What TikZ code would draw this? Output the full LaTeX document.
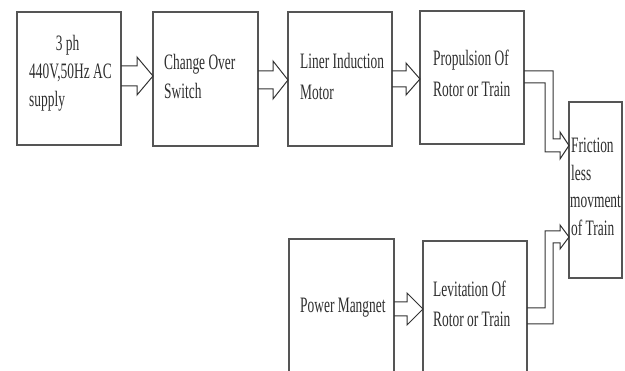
\documentclass[tikz,border=0pt]{standalone}
\usepackage{graphicx}
\usepackage{fontspec}
\setmainfont{Liberation Serif}
\usetikzlibrary{calc}
\definecolor{boxline}{HTML}{555555}
\definecolor{arrline}{HTML}{333333}
\definecolor{txt}{HTML}{2e2e2e}
\newcommand\sq[1]{\scalebox{0.61}[1]{#1}}
\begin{document}
\begin{tikzpicture}[x=1pt,y=-1pt,
  box/.style={draw=boxline,line width=1.3pt,anchor=north west,inner sep=0pt,outer sep=0pt},
  lbl/.style={anchor=base west,inner sep=0pt,text=txt,font=\fontsize{22}{30}\selectfont},
  arr/.style={draw=arrline,line width=1pt,line join=miter}]
\useasboundingbox (0,0) rectangle (625,371);
\clip (0,0) rectangle (625,371);
% boxes
\node[box,minimum width=104pt,minimum height=133pt] (b1) at (17,12) {};
\node[box,minimum width=105pt,minimum height=134pt] (b2) at (153,12) {};
\node[box,minimum width=104pt,minimum height=134pt] (b3) at (288,12) {};
\node[box,minimum width=104pt,minimum height=133pt] (b4) at (420,11) {};
\node[box,minimum width=53pt,minimum height=176pt] (b5) at (569,102) {};
\node[box,minimum width=105pt,minimum height=150pt] (b6) at (289,239) {};
\node[box,minimum width=104pt,minimum height=150pt] (b7) at (423,241) {};
% labels
\node[lbl,anchor=base] (t1a) at (67.5,51) {\sq{3 ph}};
\node[lbl] (t1b) at (29,79) {\sq{440V,50Hz AC}};
\node[lbl] (t1c) at (29,107) {\sq{supply}};
\node[lbl] (t2a) at (164,70) {\sq{Change Over}};
\node[lbl] (t2b) at (164,99) {\sq{Switch}};
\node[lbl] (t3a) at (300,69) {\sq{Liner Induction}};
\node[lbl] (t3b) at (300,100) {\sq{Motor}};
\node[lbl] (t4a) at (433,66) {\sq{Propulsion Of}};
\node[lbl] (t4b) at (433,97) {\sq{Rotor or Train}};
\node[lbl] (t5a) at (571,153) {\sq{Friction}};
\node[lbl] (t5b) at (571,181) {\sq{less}};
\node[lbl] (t5c) at (570,208) {\sq{movment}};
\node[lbl] (t5d) at (571,236) {\sq{of Train}};
\node[lbl] (t6a) at (300,313) {\sq{Power Mangnet}};
\node[lbl] (t7a) at (433,297) {\sq{Levitation Of}};
\node[lbl] (t7b) at (433,327) {\sq{Rotor or Train}};
% hollow arrows
\draw[arr] (b1.east |- 0,66) -- (137,66) -- (137,57) -- (b2.west |- 0,76) -- (137,95) -- (137,86) -- (b1.east |- 0,86);
\draw[arr] (b2.east |- 0,71) -- (273,71) -- (273,61) -- (b3.west |- 0,80) -- (273,99) -- (273,89) -- (b2.east |- 0,89);
\draw[arr] (b3.east |- 0,71) -- (406,71) -- (406,63) -- (b4.west |- 0,79) -- (406,95) -- (406,87) -- (b3.east |- 0,87);
\draw[arr] (b6.east |- 0,302) -- (407,302) -- (407,293) -- (b7.west |- 0,309) -- (407,325) -- (407,316) -- (b6.east |- 0,316);
\draw[arr] (b4.east |- 0,71) -- (553,71) -- (553,139) -- (560,139) -- (560,132) -- (b5.west |- 0,145.5) -- (560,159) -- (560,152) -- (545,152) -- (545,83) -- (b4.east |- 0,83);
\draw[arr] (b7.east |- 0,308) -- (545,308) -- (545,231) -- (560,231) -- (560,225) -- (b5.west |- 0,237) -- (560,249) -- (560,243) -- (553,243) -- (553,324) -- (b7.east |- 0,324);
\end{tikzpicture}
\end{document}
